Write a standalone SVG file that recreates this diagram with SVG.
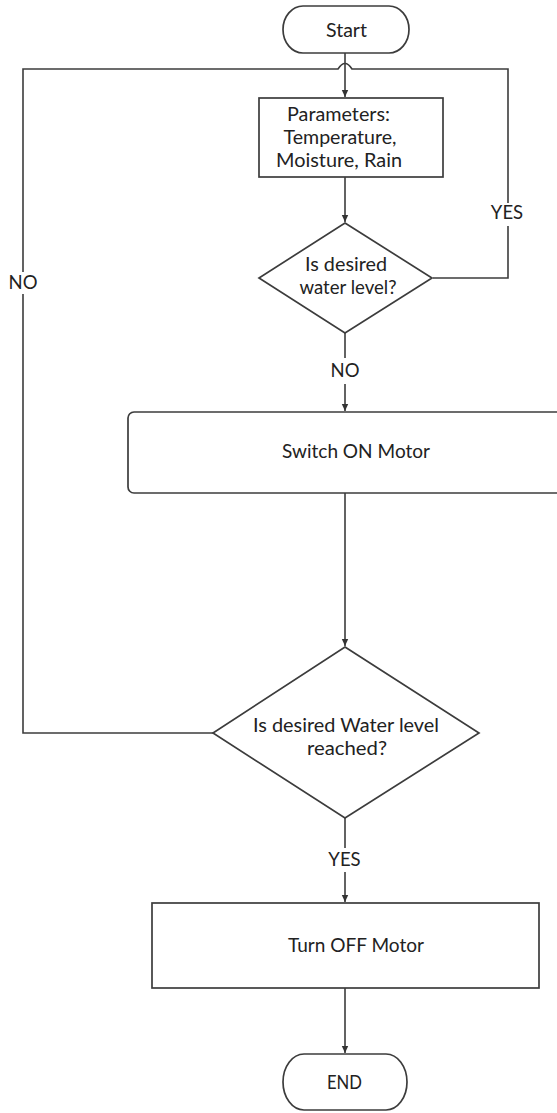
<svg xmlns="http://www.w3.org/2000/svg" width="557" height="1113" viewBox="0 0 557 1113">
<defs>
<marker id="arr" markerUnits="userSpaceOnUse" markerWidth="8" markerHeight="8" viewBox="0 0 8 8" refX="7" refY="4" orient="auto">
<path d="M0,0.8 L7,4 L0,7.2 Z" fill="#333"/>
</marker>
<style>
.n{fill:#fff;stroke:#3c3c3c;stroke-width:1.7}
.c{fill:none;stroke:#3c3c3c;stroke-width:1.6}
text{font-family:Lato,"Open Sans","Liberation Sans",sans-serif;font-size:18.5px;fill:#222;text-anchor:middle}
</style>
</defs>
<rect width="557" height="1113" fill="#fff"/>
<g id="connectors">
<path class="c" d="M345,53 V97" marker-end="url(#arr)"/>
<path class="c" d="M345,177 V222" marker-end="url(#arr)"/>
<path class="c" d="M345,333 V358"/>
<path class="c" d="M345,384 V411" marker-end="url(#arr)"/>
<path class="c" d="M433,278 H508 V226"/>
<path class="c" d="M508,203 V69 H352 Q345,58 338,69 H23 V272"/>
<path class="c" d="M23,294 V733 H213"/>
<path class="c" d="M345,493 V646" marker-end="url(#arr)"/>
<path class="c" d="M345,818 V848"/>
<path class="c" d="M345,872 V902" marker-end="url(#arr)"/>
<path class="c" d="M345,988 V1053" marker-end="url(#arr)"/>
<text x="507" y="219">YES</text>
<text x="345" y="377">NO</text>
<text x="23" y="289">NO</text>
<text x="344.5" y="866">YES</text>
</g>
<g id="start">
<rect class="n" x="283" y="6" width="126" height="47" rx="20" ry="23.5"/>
<text x="346.5" y="37" textLength="41" lengthAdjust="spacingAndGlyphs">Start</text>
</g>
<g id="params">
<rect class="n" x="259" y="98" width="184" height="79"/>
<text x="338.5" y="120.5" textLength="103" lengthAdjust="spacingAndGlyphs">Parameters:</text>
<text x="340" y="143.5" textLength="113" lengthAdjust="spacingAndGlyphs">Temperature,</text>
<text x="339" y="166.5" textLength="126" lengthAdjust="spacingAndGlyphs">Moisture, Rain</text>
</g>
<g id="decision1">
<path class="n" d="M345,223 L432,278 L345,333 L259,278 Z"/>
<text x="346" y="271" textLength="82" lengthAdjust="spacingAndGlyphs">Is desired</text>
<text x="348" y="294" textLength="97" lengthAdjust="spacingAndGlyphs">water level?</text>
</g>
<g id="switchon">
<rect class="n" x="128" y="412" width="440" height="81" rx="6"/>
<text x="356" y="458" textLength="148" lengthAdjust="spacingAndGlyphs">Switch ON Motor</text>
</g>
<g id="decision2">
<path class="n" d="M345,647 L479,733 L345,818 L213,733 Z"/>
<text x="346" y="731.5" textLength="186" lengthAdjust="spacingAndGlyphs">Is desired Water level</text>
<text x="347" y="755" textLength="80" lengthAdjust="spacingAndGlyphs">reached?</text>
</g>
<g id="turnoff">
<rect class="n" x="152" y="903" width="387" height="85"/>
<text x="356" y="952" textLength="136" lengthAdjust="spacingAndGlyphs">Turn OFF Motor</text>
</g>
<g id="end">
<rect class="n" x="283" y="1054" width="124" height="56" rx="21" ry="28"/>
<text x="344.5" y="1089" textLength="35" lengthAdjust="spacingAndGlyphs">END</text>
</g>
</svg>
